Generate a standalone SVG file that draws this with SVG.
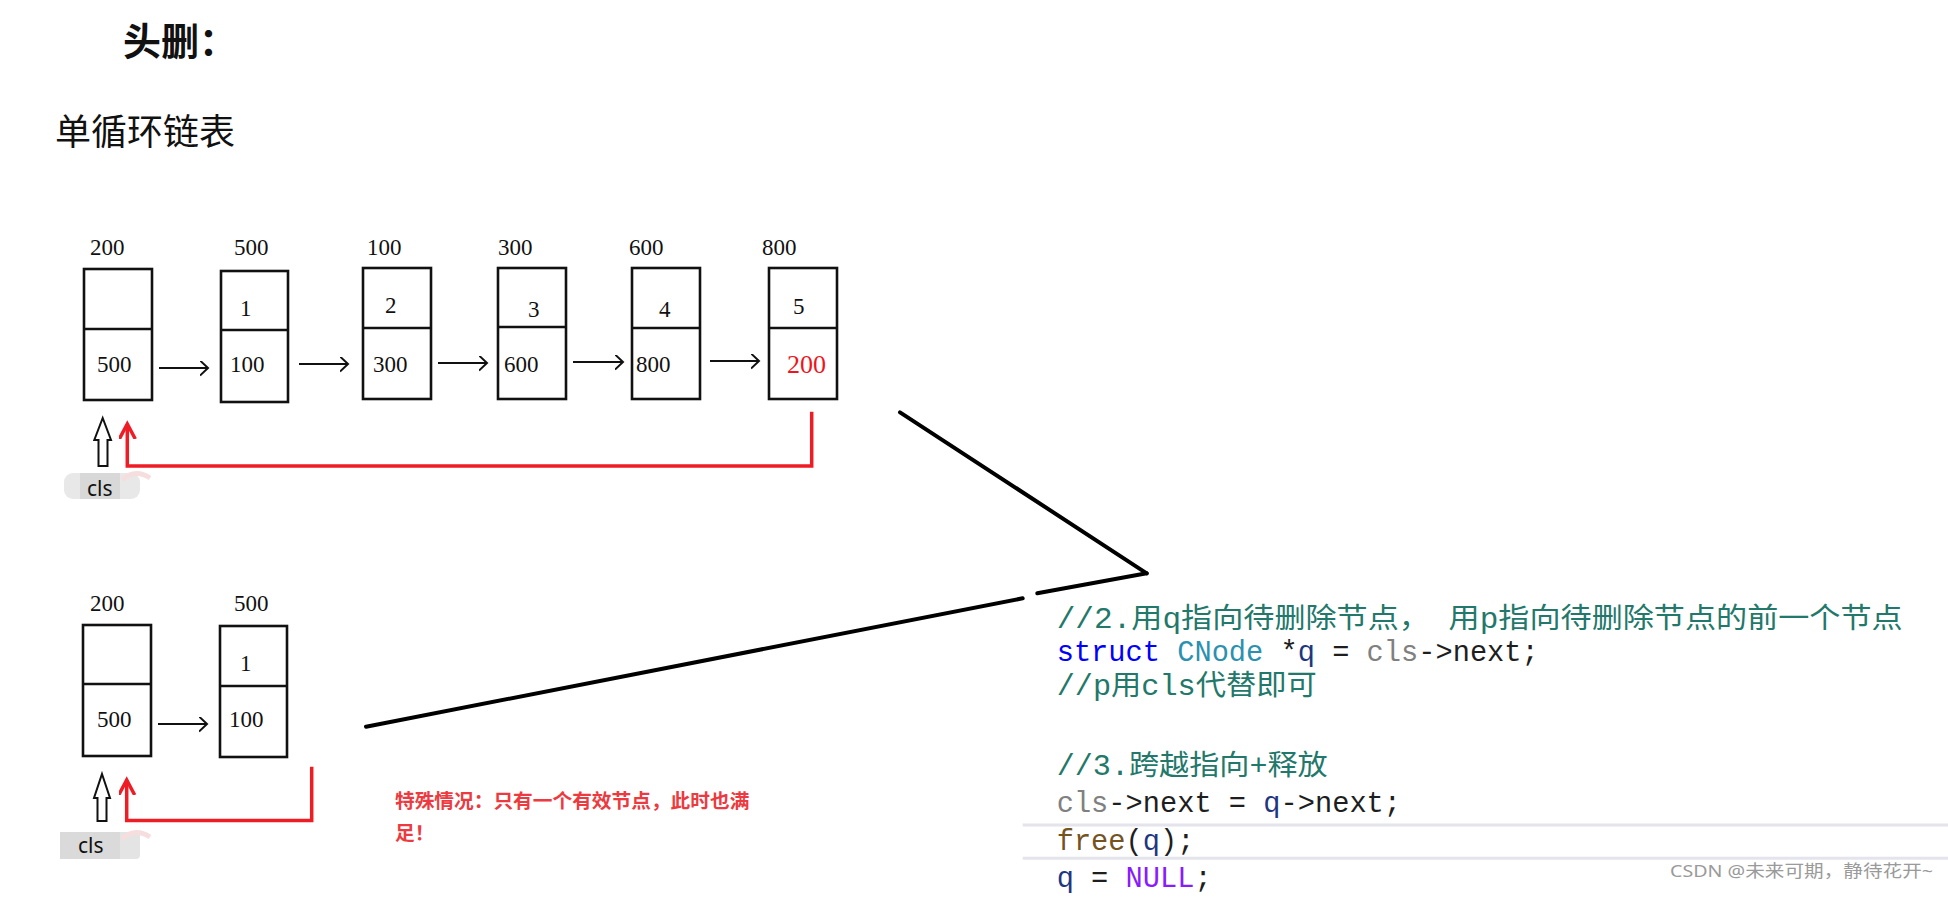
<svg xmlns="http://www.w3.org/2000/svg" width="1948" height="900" viewBox="0 0 1948 900">
<style>
.box{fill:none;stroke:#111;stroke-width:2.6}
.num{font-family:"Liberation Serif","Noto Sans CJK SC",serif;font-size:23px;fill:#111}
.red{fill:#ee1520;font-size:26px}
.blk{fill:none;stroke:#111;stroke-width:2}
.rline{fill:none;stroke:#ee1c25;stroke-width:3.5}
.diag{fill:none;stroke:#000;stroke-width:4;stroke-linecap:round}
.code{font-family:"Liberation Mono","Noto Sans CJK SC",monospace;font-size:28.7px;fill:#1e1e1e;white-space:pre}
.cm{fill:#22786a}
.kw{fill:#0000ff}
.ty{fill:#2b91af}
.lv{fill:#1f377f}
.pa{fill:#808080}
.fn{fill:#74531f}
.ma{fill:#8a1bff}
.cls{font-family:"Noto Sans","Noto Sans CJK SC",sans-serif;font-size:21px;fill:#111}
</style>
<defs>
<marker id="ah" markerUnits="userSpaceOnUse" markerWidth="12" markerHeight="18" refX="8" refY="7.5" orient="auto">
<path d="M0,0 L8,7.5 L0,15" fill="none" stroke="#111" stroke-width="2"/>
</marker>
<marker id="rh" markerUnits="userSpaceOnUse" markerWidth="20" markerHeight="30" refX="15" refY="8" orient="auto">
<path d="M0,0 L15,8 L0,16" fill="none" stroke="#ee1c25" stroke-width="3.5"/>
</marker>
</defs>
<rect width="1948" height="900" fill="#fff"/>

<g id="titles">
<text x="123" y="55" font-family="Liberation Serif,'Noto Sans CJK SC',serif" font-size="38" font-weight="bold" fill="#111">头删：</text>
<text x="55" y="145" font-family="Liberation Serif,'Noto Sans CJK SC',serif" font-size="36" fill="#111">单循环链表</text>
</g>

<g id="n200">
<text class="num" x="90" y="255">200</text>
<rect class="box" x="84" y="269" width="68" height="131"/>
<line class="box" x1="84" y1="329" x2="152" y2="329"/>
<text class="num" x="97" y="372">500</text>
</g>
<g id="n500">
<text class="num" x="234" y="255">500</text>
<rect class="box" x="221" y="271" width="67" height="131"/>
<line class="box" x1="221" y1="330" x2="288" y2="330"/>
<text class="num" x="240" y="316">1</text>
<text class="num" x="230" y="372">100</text>
</g>
<g id="n100">
<text class="num" x="367" y="255">100</text>
<rect class="box" x="363" y="268" width="68" height="131"/>
<line class="box" x1="363" y1="328" x2="431" y2="328"/>
<text class="num" x="385" y="313">2</text>
<text class="num" x="373" y="372">300</text>
</g>
<g id="n300">
<text class="num" x="498" y="255">300</text>
<rect class="box" x="498" y="268" width="68" height="131"/>
<line class="box" x1="498" y1="327" x2="566" y2="327"/>
<text class="num" x="528" y="317">3</text>
<text class="num" x="504" y="372">600</text>
</g>
<g id="n600">
<text class="num" x="629" y="255">600</text>
<rect class="box" x="632" y="268" width="68" height="131"/>
<line class="box" x1="632" y1="328" x2="700" y2="328"/>
<text class="num" x="659" y="317">4</text>
<text class="num" x="636" y="372">800</text>
</g>
<g id="n800">
<text class="num" x="762" y="255">800</text>
<rect class="box" x="769" y="268" width="68" height="131"/>
<line class="box" x1="769" y1="328" x2="837" y2="328"/>
<text class="num" x="793" y="314">5</text>
<text class="num red" x="787" y="373">200</text>
</g>

<g id="b200">
<text class="num" x="90" y="611">200</text>
<rect class="box" x="83" y="625" width="68" height="131"/>
<line class="box" x1="83" y1="684" x2="151" y2="684"/>
<text class="num" x="97" y="727">500</text>
</g>
<g id="b500">
<text class="num" x="234" y="611">500</text>
<rect class="box" x="220" y="626" width="67" height="131"/>
<line class="box" x1="220" y1="686" x2="287" y2="686"/>
<text class="num" x="240" y="671">1</text>
<text class="num" x="229" y="727">100</text>
</g>

<g id="cls-top">
<rect x="64" y="473" width="76" height="26" rx="9" fill="#e8e8e8"/>
<rect x="80" y="473" width="40" height="26" fill="#d8d8d8"/>
<path d="M122,480 Q135,468 150,478" fill="none" stroke="#f6dede" stroke-width="5"/>
<text class="cls" x="87" y="496">cls</text>
</g>
<g id="cls-bottom">
<rect x="60" y="832" width="80" height="27" rx="4" fill="#e4e4e4"/>
<rect x="60" y="832" width="60" height="27" fill="#dadada"/>
<path d="M122,839 Q135,827 150,837" fill="none" stroke="#f6dede" stroke-width="5"/>
<text class="cls" x="78" y="853">cls</text>
</g>

<g id="note">
<text font-family="'Noto Sans CJK SC',sans-serif" font-size="19.7" font-weight="bold" fill="#ec3a40">
<tspan x="395" y="808">特殊情况：只有一个有效节点，此时也满</tspan>
<tspan x="395" y="840">足！</tspan>
</text>
</g>

<g id="connectors">
<line class="blk" x1="159" y1="368" x2="208" y2="368" marker-end="url(#ah)"/>
<line class="blk" x1="299" y1="364" x2="348" y2="364" marker-end="url(#ah)"/>
<line class="blk" x1="438" y1="363" x2="487" y2="363" marker-end="url(#ah)"/>
<line class="blk" x1="573" y1="362" x2="623" y2="362" marker-end="url(#ah)"/>
<line class="blk" x1="710" y1="361" x2="759" y2="361" marker-end="url(#ah)"/>
<line class="blk" x1="158" y1="724" x2="207" y2="724" marker-end="url(#ah)"/>
<polygon points="102.7,418 111,440 107.5,440 107.5,466 98.5,466 98.5,440 94.3,440" fill="#fff" stroke="#111" stroke-width="2"/>
<polygon points="102,774 110,798 106.5,798 106.5,821 97.5,821 97.5,798 94,798" fill="#fff" stroke="#111" stroke-width="2"/>
<polyline class="rline" points="811.7,411.7 811.7,466 127.3,466 127.3,424" marker-end="url(#rh)"/>
<polyline class="rline" points="311.7,766.7 311.7,820.5 126.7,820.5 126.7,780" marker-end="url(#rh)"/>
<line class="diag" x1="900" y1="412.3" x2="1146.7" y2="573.3"/>
<line class="diag" x1="1146.7" y1="573.3" x2="1037.3" y2="593.3"/>
<line class="diag" x1="1022.7" y1="598.3" x2="366" y2="726.7"/>
</g>

<g id="code">
<line x1="1022.7" y1="825" x2="1948" y2="825" stroke="#e4e4ec" stroke-width="3"/>
<line x1="1022.7" y1="858.3" x2="1948" y2="858.3" stroke="#e4e4ec" stroke-width="3"/>
<text class="code cm" x="1056.7" y="628" textLength="846" lengthAdjust="spacingAndGlyphs">//2.用q指向待删除节点， 用p指向待删除节点的前一个节点</text>
<text class="code" x="1056.7" y="661"><tspan class="kw">struct</tspan> <tspan class="ty">CNode</tspan> *<tspan class="lv">q</tspan> = <tspan class="pa">cls</tspan>-&gt;next;</text>
<text class="code cm" x="1056.7" y="695" textLength="260" lengthAdjust="spacingAndGlyphs">//p用cls代替即可</text>
<text class="code cm" x="1056.7" y="775" textLength="271" lengthAdjust="spacingAndGlyphs">//3.跨越指向+释放</text>
<text class="code" x="1056.7" y="811.7"><tspan class="pa">cls</tspan>-&gt;next = <tspan class="lv">q</tspan>-&gt;next;</text>
<text class="code" x="1056.7" y="850"><tspan class="fn">free</tspan>(<tspan class="lv">q</tspan>);</text>
<text class="code" x="1056.7" y="886.7"><tspan class="lv">q</tspan> = <tspan class="ma">NULL</tspan>;</text>
</g>

<g id="watermark">
<text x="1670" y="876.5" font-family="'Noto Sans','Noto Sans CJK SC',sans-serif" font-size="17" fill="#9a9a9a" textLength="263" lengthAdjust="spacingAndGlyphs">CSDN @未来可期，静待花开~</text>
</g>
</svg>
